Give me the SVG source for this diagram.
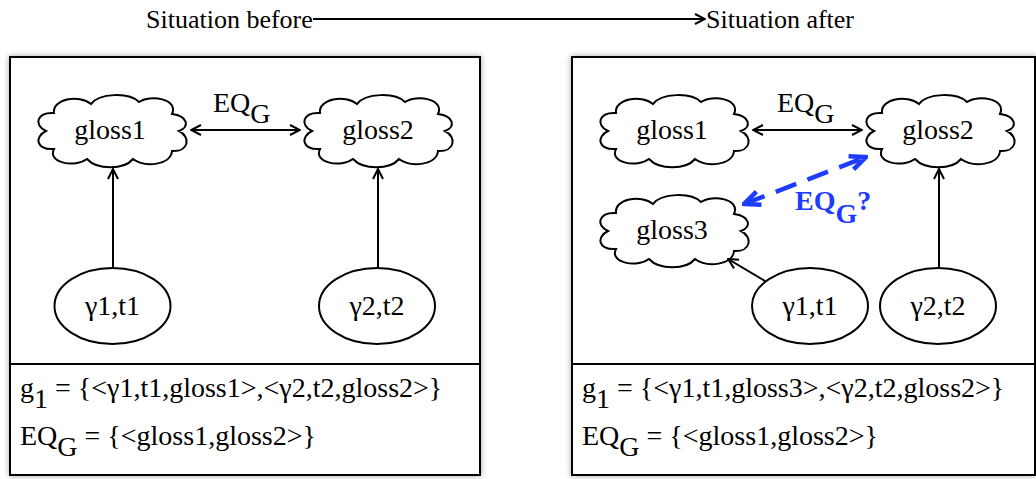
<svg xmlns="http://www.w3.org/2000/svg" width="1036" height="479" viewBox="0 0 1036 479" font-family="'Liberation Serif', 'Times New Roman', serif">
<style>
text{font-family:'Liberation Serif','Times New Roman',serif}
.t{font-size:26px}
.b{font-size:28px}
.n{font-size:28px;text-anchor:middle}
.box{fill:#fff;stroke:#000;stroke-width:2}
.sh{filter:url(#shadow)}
.cl{fill:#fff;stroke:#000;stroke-width:2}
.el{fill:#fff;stroke:#000;stroke-width:2}
.c{fill:none;stroke:#000;stroke-width:2}
.blue{fill:none;stroke:#1e3cff;stroke-width:4.5;stroke-dasharray:22 12}
.bl{fill:#1e3cff;font-weight:bold}
</style>
<defs>
<filter id="shadow" x="-5%" y="-5%" width="110%" height="110%">
<feDropShadow dx="0" dy="0" stdDeviation="3" flood-color="#000" flood-opacity="0.35"/>
</filter>
<path id="cloud" d="M -66,0 C -79,-6 -75,-19 -58,-18 C -60,-32 -33,-37 -21,-27 C -13,-38 17,-39 27,-29 C 38,-37 67,-32 60,-17 C 76,-15 78,-4 67,0 C 79,6 77,21 60,20 C 59,34 33,37 21,28 C 12,39 -15,39 -25,28 C -37,37 -65,32 -58,18 C -76,19 -78,6 -66,0 Z"/>
<marker id="ah" viewBox="0 0 12 12" refX="11" refY="6" markerWidth="12" markerHeight="12" markerUnits="userSpaceOnUse" orient="auto-start-reverse">
<path d="M1,1 L11,6 L1,11" fill="none" stroke="#000" stroke-width="2"/>
</marker>
<marker id="bh" viewBox="0 0 20 20" refX="18" refY="10" markerWidth="20" markerHeight="20" markerUnits="userSpaceOnUse" orient="auto-start-reverse">
<path d="M2,3 L18,10 L2,17" fill="none" stroke="#1e3cff" stroke-width="4.5"/>
</marker>
</defs>
<rect width="1036" height="479" fill="#fff"/>

<g id="title">
<text class="t" x="146" y="28">Situation before</text>
<text class="t" x="706" y="28">Situation after</text>
</g>

<g id="before">
<rect class="box sh" x="10" y="57" width="470" height="418"/>
<line class="c" x1="10" y1="364" x2="480" y2="364"/>
<g id="b-gloss1"><use href="#cloud" class="cl" transform="translate(112,131)"/><text class="n" x="110" y="139">gloss1</text></g>
<g id="b-gloss2"><use href="#cloud" class="cl" transform="translate(378,131)"/><text class="n" x="378" y="139">gloss2</text></g>
<g id="b-g1t1"><ellipse class="el" cx="112.5" cy="306" rx="58" ry="38"/><text class="n" x="112.5" y="315">γ1,t1</text></g>
<g id="b-g2t2"><ellipse class="el" cx="377" cy="306" rx="58" ry="38"/><text class="n" x="377" y="315">γ2,t2</text></g>
<g id="b-eq"><text class="b" x="213" y="112">EQ<tspan dy="11">G</tspan></text></g>
<g id="b-text">
<text class="b" x="20" y="397">g<tspan dy="11">1</tspan><tspan dy="-11"> = {&lt;γ1,t1,gloss1&gt;,&lt;γ2,t2,gloss2&gt;}</tspan></text>
<text class="b" x="20" y="445">EQ<tspan dy="11">G</tspan><tspan dy="-11"> = {&lt;gloss1,gloss2&gt;}</tspan></text>
</g>
</g>

<g id="after">
<rect class="box sh" x="572" y="57" width="463" height="418"/>
<line class="c" x1="572" y1="364" x2="1035" y2="364"/>
<g id="a-gloss1"><use href="#cloud" class="cl" transform="translate(674,131)"/><text class="n" x="672" y="139">gloss1</text></g>
<g id="a-gloss2"><use href="#cloud" class="cl" transform="translate(940,131)"/><text class="n" x="938" y="139">gloss2</text></g>
<g id="a-gloss3"><use href="#cloud" class="cl" transform="translate(674,231)"/><text class="n" x="672" y="239">gloss3</text></g>
<g id="a-g1t1"><ellipse class="el" cx="810" cy="306" rx="58" ry="38"/><text class="n" x="810" y="315">γ1,t1</text></g>
<g id="a-g2t2"><ellipse class="el" cx="938" cy="306" rx="58" ry="38"/><text class="n" x="938" y="315">γ2,t2</text></g>
<g id="a-eq"><text class="b" x="777" y="112">EQ<tspan dy="11">G</tspan></text></g>
<g id="a-eq2"><text class="b bl" x="795" y="210">EQ<tspan dy="13">G</tspan><tspan dy="-13">?</tspan></text></g>
<g id="a-text">
<text class="b" x="582" y="397">g<tspan dy="11">1</tspan><tspan dy="-11"> = {&lt;γ1,t1,gloss3&gt;,&lt;γ2,t2,gloss2&gt;}</tspan></text>
<text class="b" x="582" y="445">EQ<tspan dy="11">G</tspan><tspan dy="-11"> = {&lt;gloss1,gloss2&gt;}</tspan></text>
</g>
</g>

<g id="connectors">
<line class="c" x1="313" y1="19" x2="705" y2="19" marker-end="url(#ah)"/>
<line class="c" x1="191" y1="130" x2="300" y2="130" marker-start="url(#ah)" marker-end="url(#ah)"/>
<line class="c" x1="113" y1="268" x2="113" y2="169" marker-end="url(#ah)"/>
<line class="c" x1="378" y1="268" x2="378" y2="169" marker-end="url(#ah)"/>
<line class="c" x1="753" y1="130" x2="862" y2="130" marker-start="url(#ah)" marker-end="url(#ah)"/>
<line class="c" x1="939" y1="268" x2="939" y2="169" marker-end="url(#ah)"/>
<line class="c" x1="765" y1="281" x2="728" y2="259" marker-end="url(#ah)"/>
<line class="blue" x1="744" y1="204" x2="866" y2="157" marker-start="url(#bh)" marker-end="url(#bh)"/>
</g>
</svg>
